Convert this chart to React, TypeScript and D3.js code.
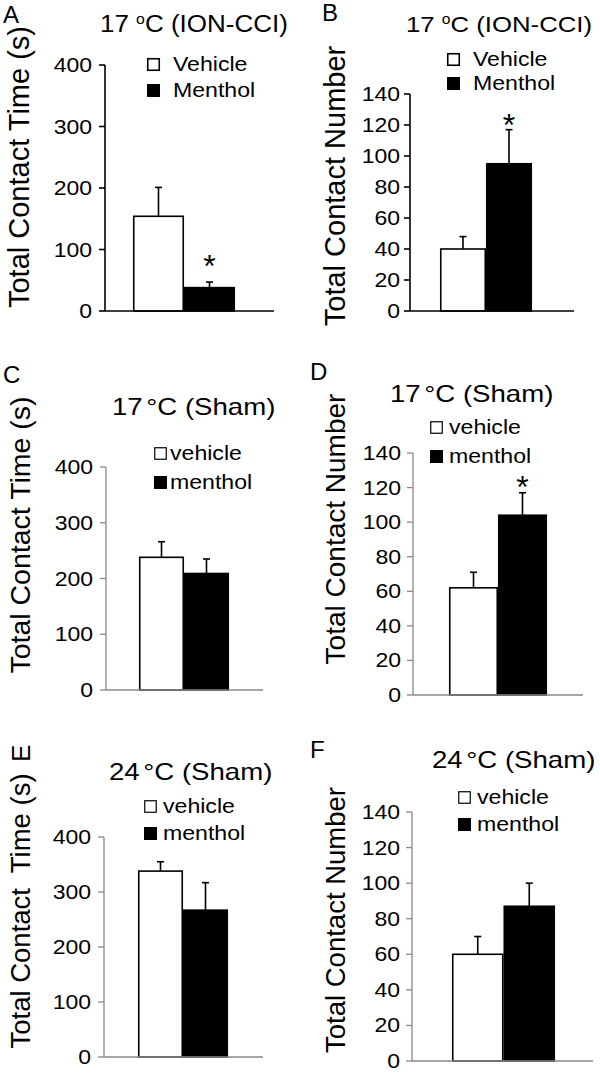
import React from "react";
import * as d3 from "d3";

// ---------- data ----------
const panelLetters = ["A", "B", "C", "D", "E", "F"];
const panelTemps = ["17", "17", "17", "17", "24", "24"];
const panelConditions = ["ION-CCI", "ION-CCI", "Sham", "Sham", "Sham", "Sham"];
const yLabels = [
  "Total Contact Time (s)",
  "Total Contact Number",
  "Total Contact Time (s)",
  "Total Contact Number",
  "Total Contact  Time (s)",
  "Total Contact Number",
];
const groupNamesCap = ["Vehicle", "Menthol"];
const groupNamesLower = ["vehicle", "menthol"];
const vehicleMeans = [154, 40, 238, 62, 338, 60];
const vehicleErrors = [47, 8, 28, 9, 17, 10];
const mentholMeans = [38, 95, 209, 104, 267, 87];
const mentholErrors = [9, 22, 26, 13, 50, 13];
const mentholSignificant = [true, true, false, true, false, false];
const timeTicks = [0, 100, 200, 300, 400];
const numberTicks = [0, 20, 40, 60, 80, 100, 120, 140];

// ---------- layout (positions / styles only) ----------
type L = {
  ax: number; yTop: number; yZero: number; xEnd: number; b0: number; b1: number;
  tx: number; ty: number; tsx: number; lx: number; ly: number[]; ltx: number; lsize: number;
  letterX: number; letterY: number; letterRot: boolean; ylx: number; ylc: number; ylFs: number;
  axisColor: string; starGap: number; oldStyle: boolean; time: boolean; tickGap: number;
};
const layout: L[] = [
  { ax: 105, yTop: 65, yZero: 311, xEnd: 274, b0: 133, b1: 235, tx: 100, ty: 32, tsx: 1.13, lx: 147, ly: [58, 84], ltx: 173, lsize: 13, letterX: 3, letterY: 23, letterRot: false, ylx: 29, ylc: 167, ylFs: 29, axisColor: "#000", starGap: 18, oldStyle: true, time: true, tickGap: 13 },
  { ax: 410, yTop: 94, yZero: 311, xEnd: 574, b0: 440, b1: 532, tx: 406, ty: 32, tsx: 1.12, lx: 447, ly: [53, 77], ltx: 473, lsize: 13, letterX: 322, letterY: 21, letterRot: false, ylx: 345, ylc: 186, ylFs: 29, axisColor: "#000", starGap: 7, oldStyle: true, time: false, tickGap: 10 },
  { ax: 106, yTop: 467, yZero: 690, xEnd: 263, b0: 139, b1: 229, tx: 112, ty: 415, tsx: 1.2, lx: 154, ly: [447, 476], ltx: 170, lsize: 13, letterX: 3, letterY: 383, letterRot: false, ylx: 30, ylc: 535, ylFs: 28.5, axisColor: "#888", starGap: 8, oldStyle: false, time: true, tickGap: 13 },
  { ax: 413, yTop: 453, yZero: 695, xEnd: 583, b0: 449, b1: 547, tx: 390, ty: 402, tsx: 1.2, lx: 430, ly: [421, 450], ltx: 449, lsize: 13, letterX: 310, letterY: 380, letterRot: false, ylx: 345, ylc: 529, ylFs: 28, axisColor: "#888", starGap: 8, oldStyle: false, time: false, tickGap: 12 },
  { ax: 104, yTop: 837, yZero: 1057, xEnd: 263, b0: 138, b1: 228, tx: 109, ty: 780, tsx: 1.2, lx: 144, ly: [800, 827], ltx: 163, lsize: 13, letterX: 30, letterY: 762, letterRot: true, ylx: 30, ylc: 911, ylFs: 27.5, axisColor: "#888", starGap: 8, oldStyle: false, time: true, tickGap: 13 },
  { ax: 412, yTop: 812, yZero: 1061, xEnd: 593, b0: 452, b1: 555, tx: 432, ty: 768, tsx: 1.2, lx: 458, ly: [791, 818], ltx: 477, lsize: 13, letterX: 310, letterY: 758, letterRot: false, ylx: 345, ylc: 920, ylFs: 27.5, axisColor: "#888", starGap: 8, oldStyle: false, time: false, tickGap: 12 },
];

const FONT = "'Liberation Sans', Arial, Helvetica, sans-serif";
const TICK_FS = 20;
const TICK_SX = 1.15;
const LEG_FS = 21;
const LEG_SX = 1.1;
const TITLE_FS = 23;
const LETTER_FS = 24;

function Panel({ i }: { i: number }) {
  const L = layout[i];
  const ticks = L.time ? timeTicks : numberTicks;
  const yMax = ticks[ticks.length - 1];
  const y = d3.scaleLinear().domain([0, yMax]).range([L.yZero, L.yTop]);
  const groups = L.oldStyle ? groupNamesCap : groupNamesLower;
  const x = d3.scaleBand<string>().domain(groups).range([L.b0, L.b1]).padding(0);
  const means = [vehicleMeans[i], mentholMeans[i]];
  const errs = [vehicleErrors[i], mentholErrors[i]];
  const sig = [false, mentholSignificant[i]];
  const axisW = L.oldStyle ? 1.6 : 1.3;
  const titleSup = L.oldStyle;

  return (
    <g fontFamily={FONT}>
      {/* panel letter */}
      {L.letterRot ? (
        <text transform={`translate(${L.letterX},${L.letterY}) rotate(-90)`} fontSize={26}>
          {panelLetters[i]}
        </text>
      ) : (
        <text x={L.letterX} y={L.letterY} fontSize={LETTER_FS}>
          {panelLetters[i]}
        </text>
      )}
      {/* title */}
      <text transform={`translate(${L.tx},${L.ty}) scale(${L.tsx},1)`} fontSize={TITLE_FS}>
        {titleSup ? (
          <>
            {panelTemps[i] + " "}
            <tspan fontSize={14} dy={-8}>o</tspan>
            <tspan dy={8}>{"C (" + panelConditions[i] + ")"}</tspan>
          </>
        ) : (
          <>
            {panelTemps[i]}
            <tspan dx={3}>{"°C (" + panelConditions[i] + ")"}</tspan>
          </>
        )}
      </text>
      {/* y label */}
      <text
        transform={`translate(${L.ylx},${L.ylc}) rotate(-90)`}
        fontSize={L.ylFs}
        textAnchor="middle"
        style={{ whiteSpace: "pre" }}
      >
        {yLabels[i]}
      </text>
      {/* legend */}
      {groups.map((g, k) => (
        <g key={g}>
          <rect
            x={L.lx + (k === 0 ? 0.75 : 0)}
            y={L.ly[k] + (k === 0 ? 0.75 : 0)}
            width={L.lsize - (k === 0 ? 1.5 : 0)}
            height={L.lsize - (k === 0 ? 1.5 : 0)}
            fill={k === 0 ? "#fff" : "#000"}
            stroke={k === 0 ? "#000" : "none"}
            strokeWidth={L.oldStyle ? 1.6 : 1.2}
          />
          <text
            transform={`translate(${L.ltx},${L.ly[k] + L.lsize}) scale(${LEG_SX},1)`}
            fontSize={LEG_FS}
          >
            {g}
          </text>
        </g>
      ))}
      {/* bars */}
      {groups.map((g, k) => {
        const bx = x(g)!;
        const bw = x.bandwidth();
        const cx = bx + bw / 2;
        const top = y(means[k]);
        const etop = y(means[k] + errs[k]);
        return (
          <g key={g}>
            <line x1={cx} x2={cx} y1={top} y2={etop} stroke="#000" strokeWidth={1.6} />
            <line x1={cx - 3.5} x2={cx + 3.5} y1={etop} y2={etop} stroke="#000" strokeWidth={1.6} />
            <rect
              x={bx + 0.75}
              y={top}
              width={bw - 1.5}
              height={L.yZero - top}
              fill={k === 0 ? "#fff" : "#000"}
              stroke="#000"
              strokeWidth={1.6}
            />
            {sig[k] && (
              <text x={cx} y={etop - L.starGap + 13} fontSize={32} textAnchor="middle">
                *
              </text>
            )}
          </g>
        );
      })}
      {/* axes */}
      <line x1={L.ax} x2={L.ax} y1={L.yTop} y2={L.yZero} stroke={L.axisColor} strokeWidth={axisW} />
      <line x1={L.ax} x2={L.xEnd} y1={L.yZero} y2={L.yZero} stroke={L.axisColor} strokeWidth={axisW} />
      {ticks.map((t) => (
        <g key={t}>
          <line x1={L.ax - 6} x2={L.ax} y1={y(t)} y2={y(t)} stroke={L.axisColor} strokeWidth={axisW} />
          <text
            transform={`translate(${L.ax - L.tickGap},${y(t) + 7}) scale(${TICK_SX},1)`}
            fontSize={TICK_FS}
            textAnchor="end"
          >
            {t}
          </text>
        </g>
      ))}
    </g>
  );
}

export default function App() {
  return (
    <svg
      width={600}
      height={1073}
      style={{ position: "absolute", left: 0, top: 0, background: "#fff" }}
    >
      <rect width={600} height={1073} fill="#fff" />
      {panelLetters.map((_, i) => (
        <Panel key={i} i={i} />
      ))}
    </svg>
  );
}
